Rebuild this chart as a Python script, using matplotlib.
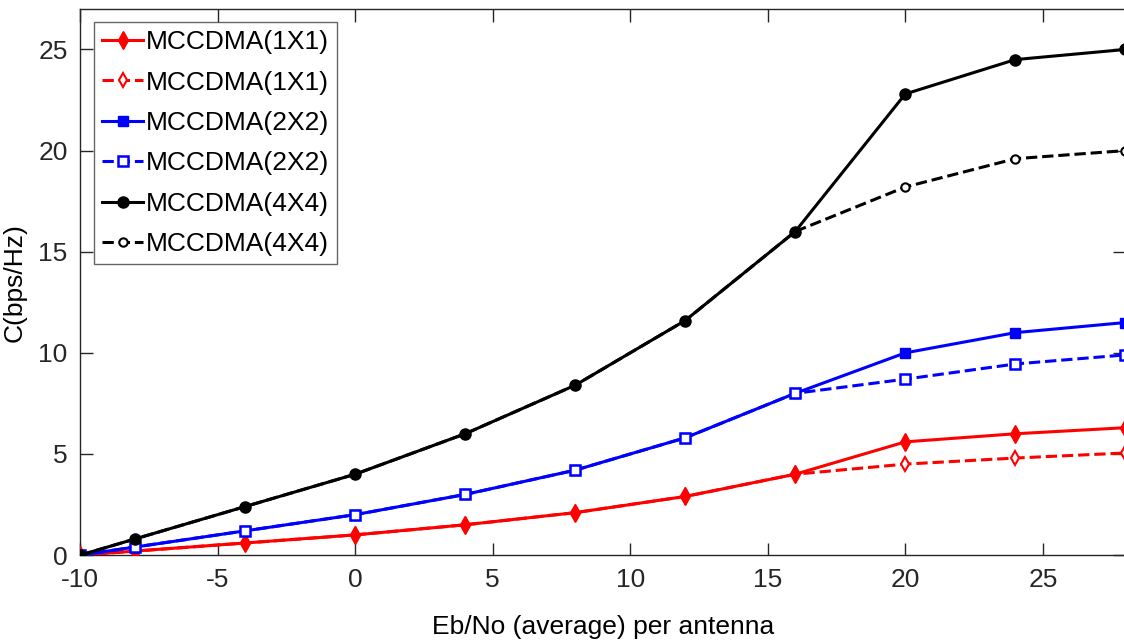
import numpy as np
import matplotlib.pyplot as plt

plt.rcParams['font.family'] = ['Liberation Sans', 'DejaVu Sans']
plt.rcParams['axes.unicode_minus'] = False

# Eb/No (dB) per antenna
snr = [-10, -8, -4, 0, 4, 8, 12, 16, 20, 24, 28]

# capacity values
c11 = [0, 0.2, 0.6, 1.0, 1.5, 2.1, 2.9, 4.0, 5.6, 6.0, 6.3]
c11_b = [0, 0.2, 0.6, 1.0, 1.5, 2.1, 2.9, 4.0, 4.5, 4.8, 5.05]
c22 = [0, 0.4, 1.2, 2.0, 3.0, 4.2, 5.8, 8.0, 10.0, 11.0, 11.5]
c22_b = [0, 0.4, 1.2, 2.0, 3.0, 4.2, 5.8, 8.0, 8.7, 9.45, 9.9]
c44 = [0, 0.8, 2.4, 4.0, 6.0, 8.4, 11.6, 16.0, 22.8, 24.5, 25.0]
c44_b = [0, 0.8, 2.4, 4.0, 6.0, 8.4, 11.6, 16.0, 18.2, 19.6, 20.0]

labels = ['MCCDMA(1X1)', 'MCCDMA(1X1)', 'MCCDMA(2X2)',
          'MCCDMA(2X2)', 'MCCDMA(4X4)', 'MCCDMA(4X4)']

fig = plt.figure(figsize=(11.24, 6.44), dpi=100)
ax = fig.add_axes([0.0712, 0.138, 0.93, 0.848])

lw = 2.2
# red
ax.plot(snr, c11_b, 'r--d', lw=lw, ms=7, mfc='white', mew=1.5, label=labels[1], zorder=2)
ax.plot(snr, c11, 'r-d', lw=lw, ms=9, label=labels[0], zorder=3)
# blue (hollow markers sit on top)
ax.plot(snr, c22, 'b-s', lw=lw, ms=7, label=labels[2], zorder=4)
ax.plot(snr, c22_b, 'b--s', lw=lw, ms=7, mfc='white', mew=1.8, label=labels[3], zorder=5)
# black
ax.plot(snr, c44_b, 'k--o', lw=lw, ms=6, mfc='white', mew=1.5, label=labels[5], zorder=6)
ax.plot(snr, c44, 'k-o', lw=lw, ms=8, label=labels[4], zorder=7)

ax.set_xlim(-10, 28)
ax.set_ylim(0, 27)
ax.set_xticks([-10, -5, 0, 5, 10, 15, 20, 25])
ax.set_yticks([0, 5, 10, 15, 20, 25])
ax.tick_params(direction='in', top=True, right=True, labelsize=19,
               colors='#262626', length=9, width=1, pad=9)
for s in ax.spines.values():
    s.set_color('#262626')
    s.set_linewidth(1)
ax.set_xlabel('Eb/No (average) per antenna', fontsize=19, labelpad=17)
ax.set_ylabel('C(bps/Hz)', fontsize=19, labelpad=8)

h, l = ax.get_legend_handles_labels()
order = [1, 0, 2, 3, 5, 4]
leg = ax.legend([h[i] for i in order], [l[i] for i in order], loc='upper left',
                fontsize=19, frameon=True, fancybox=False, handlelength=1.55,
                handletextpad=0.1, borderpad=0.3, labelspacing=0.62,
                borderaxespad=0.3, bbox_to_anchor=(0.006, 0.99))
leg.get_frame().set_edgecolor('#404040')
leg.get_frame().set_linewidth(1)

fig.savefig('out.png', dpi=100)
